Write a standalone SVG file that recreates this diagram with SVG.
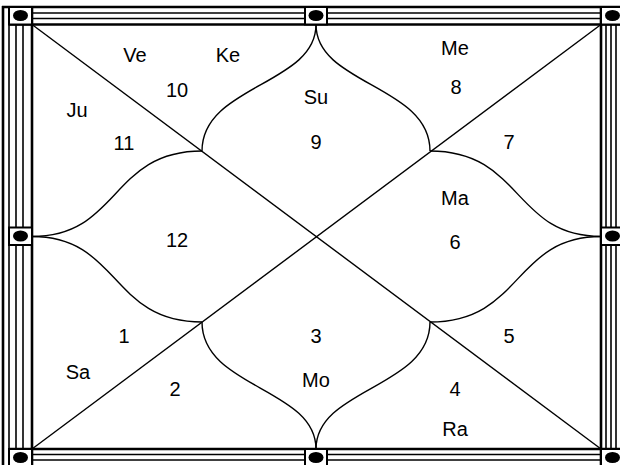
<svg xmlns="http://www.w3.org/2000/svg" width="620" height="465" viewBox="0 0 620 465">
<style>
.b{stroke:#000;stroke-width:1.6;fill:none}
.bt{stroke:#000;stroke-width:2.6;fill:none}
.box{fill:#fff;stroke:#000;stroke-width:2}
.dot{fill:#000}
.c{stroke:#000;stroke-width:1.4;fill:none}
text{font-family:"Liberation Sans",Arial,sans-serif;font-size:20px;fill:#000;text-anchor:middle}
</style>
<rect width="620" height="465" fill="#fff"/>
<g id="border">
<line class="bt" x1="3" y1="6" x2="3" y2="465"/>
<line class="bt" x1="2" y1="7" x2="620" y2="7"/>
<line class="b" x1="9" y1="7" x2="9" y2="465"/>
<line class="b" x1="16" y1="7" x2="16" y2="465"/>
<line class="b" x1="23" y1="7" x2="23" y2="465"/>
<line class="bt" x1="32" y1="7" x2="32" y2="465"/>
<line class="b" x1="9" y1="13" x2="620" y2="13"/>
<line class="b" x1="9" y1="18.5" x2="620" y2="18.5"/>
<line class="bt" x1="9" y1="24.5" x2="620" y2="24.5"/>
<line class="bt" x1="601" y1="7" x2="601" y2="465"/>
<line class="b" x1="606" y1="7" x2="606" y2="465"/>
<line class="b" x1="611" y1="7" x2="611" y2="465"/>
<line class="b" x1="616" y1="7" x2="616" y2="465"/>
<line class="bt" x1="9" y1="449" x2="620" y2="449"/>
<line class="b" x1="9" y1="454.5" x2="620" y2="454.5"/>
<line class="b" x1="9" y1="460" x2="620" y2="460"/>
</g>
<g id="boxes">
<g id="box-tl"><rect class="box" x="9" y="7" width="23" height="17.5"/><ellipse class="dot" cx="20.5" cy="15.5" rx="7.5" ry="5.5"/></g>
<g id="box-tm"><rect class="box" x="305" y="7" width="22" height="17.5"/><ellipse class="dot" cx="316" cy="15.5" rx="7.5" ry="5.5"/></g>
<g id="box-tr"><rect class="box" x="601" y="7" width="24" height="17.5"/><ellipse class="dot" cx="612.5" cy="15.5" rx="7.5" ry="5.5"/></g>
<g id="box-ml"><rect class="box" x="9" y="227.5" width="23" height="17.5"/><ellipse class="dot" cx="20.5" cy="236" rx="7.5" ry="5.5"/></g>
<g id="box-mr"><rect class="box" x="601" y="227.5" width="24" height="17.5"/><ellipse class="dot" cx="612.5" cy="236" rx="7.5" ry="5.5"/></g>
<g id="box-bl"><rect class="box" x="9" y="449" width="23" height="18"/><ellipse class="dot" cx="20.5" cy="457.5" rx="7.5" ry="5.5"/></g>
<g id="box-bm"><rect class="box" x="305" y="449" width="22" height="18"/><ellipse class="dot" cx="316" cy="457.5" rx="7.5" ry="5.5"/></g>
<g id="box-br"><rect class="box" x="601" y="449" width="24" height="18"/><ellipse class="dot" cx="612.5" cy="457.5" rx="7.5" ry="5.5"/></g>
</g>
<g id="connectors">
<line class="c" x1="32" y1="24.5" x2="601" y2="449"/>
<line class="c" x1="601" y1="24.5" x2="32" y2="449"/>
<path class="c" d="M316,24.5 C316,85 202,85 202,151"/>
<path class="c" d="M316,24.5 C316,85 430,85 430,151"/>
<path class="c" d="M316,449 C316,388 202,388 202,322"/>
<path class="c" d="M316,449 C316,388 430,388 430,322"/>
<path class="c" d="M32,236.5 C120,236.5 110,151 202,151"/>
<path class="c" d="M32,236.5 C120,236.5 110,322 202,322"/>
<path class="c" d="M601,236.5 C513,236.5 523,151 430,151"/>
<path class="c" d="M601,236.5 C513,236.5 523,322 430,322"/>
</g>
<g id="labels">
<text x="135" y="62">Ve</text>
<text x="228" y="62">Ke</text>
<text x="177" y="97">10</text>
<text x="77" y="117">Ju</text>
<text x="124" y="150">11</text>
<text x="316" y="104">Su</text>
<text x="316" y="149">9</text>
<text x="455" y="55">Me</text>
<text x="456" y="94">8</text>
<text x="509" y="149">7</text>
<text x="455" y="205">Ma</text>
<text x="455" y="249">6</text>
<text x="177" y="247">12</text>
<text x="124" y="343">1</text>
<text x="78" y="379">Sa</text>
<text x="175" y="396">2</text>
<text x="316" y="343">3</text>
<text x="316" y="387">Mo</text>
<text x="509" y="343">5</text>
<text x="455" y="396">4</text>
<text x="455" y="436">Ra</text>
</g>
</svg>
